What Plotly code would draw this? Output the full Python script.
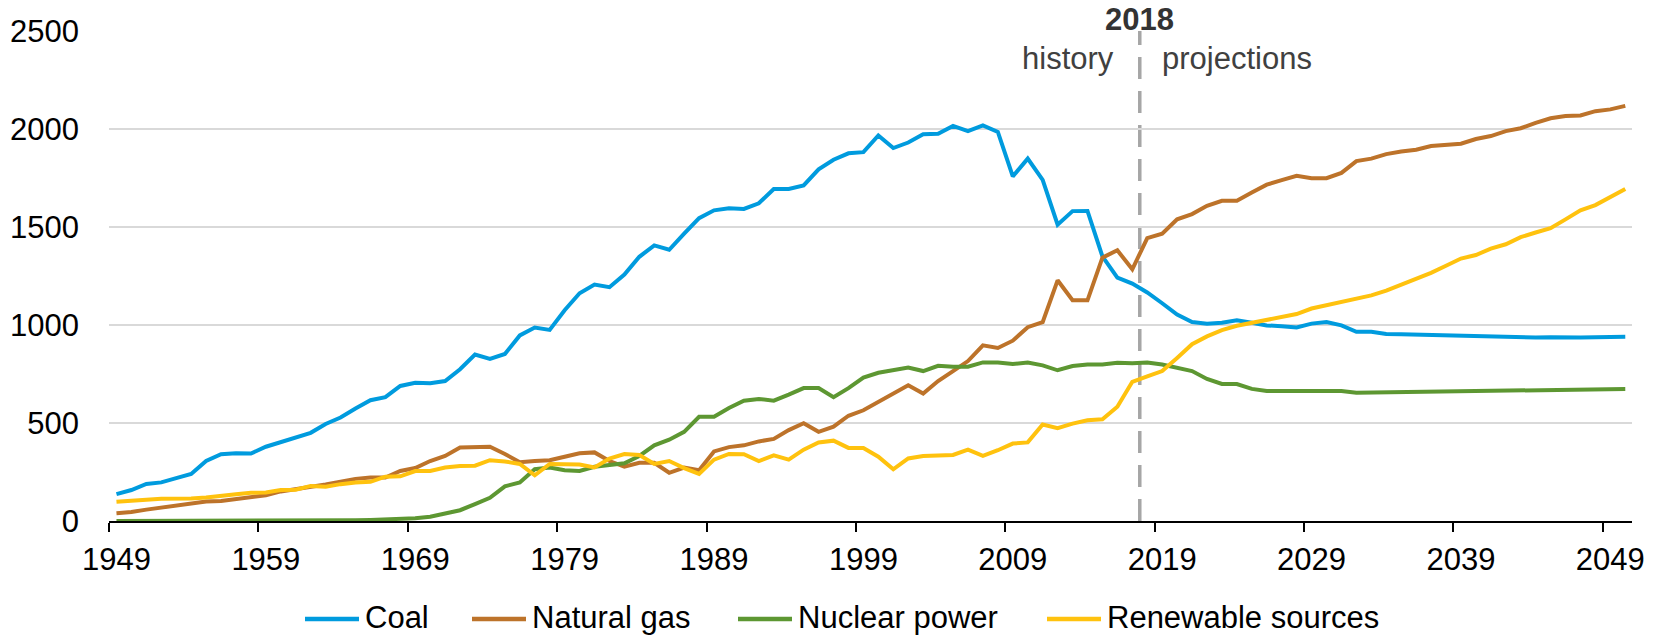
import plotly.graph_objects as go

years = list(range(1949, 2051))

coal = [137, 158, 189, 197, 219, 240, 306, 341, 346, 344,
        379, 401, 423, 450, 495, 528, 574, 616, 632, 689,
        705, 703, 714, 774, 849, 827, 852, 947, 987, 975,
        1075, 1162, 1206, 1193, 1257, 1348, 1406, 1384, 1466, 1545,
        1585, 1596, 1592, 1621, 1694, 1694, 1712, 1794, 1843, 1876,
        1882, 1967, 1903, 1931, 1973, 1976, 2016, 1989, 2018, 1985,
        1758, 1849, 1740, 1512, 1581, 1582, 1350, 1242, 1211, 1166,
        1111, 1053, 1015, 1007, 1011, 1024, 1011, 998, 993, 987,
        1007, 1015, 998, 965, 965, 954, 953, 951, 945, 944,
        944, 944, 938, 936, 934, 936, 938, 936, 936, 938,
        940, 940]

natural_gas = [40, 46, 58, 69, 80, 93, 100, 102, 113, 122,
               131, 151, 162, 171, 186, 200, 215, 222, 222, 255,
               270, 306, 332, 375, 377, 379, 342, 300, 306, 310,
               328, 346, 350, 306, 277, 297, 297, 246, 273, 259,
               355, 377, 386, 406, 419, 464, 499, 455, 481, 537,
               565, 607, 647, 692, 650, 714, 765, 816, 896, 883,
               920, 989, 1015, 1228, 1126, 1126, 1344, 1381, 1284, 1443,
               1466, 1539, 1566, 1608, 1634, 1634, 1676, 1716, 1739, 1761,
               1749, 1749, 1776, 1836, 1849, 1872, 1885, 1894, 1913, 1918,
               1925, 1949, 1964, 1989, 2004, 2031, 2055, 2066, 2069, 2091,
               2100, 2118]

nuclear_power = [0, 0, 0, 0, 0, 0, 0, 0, 0, 0.2,
                 0.2, 0.5, 1.7, 2.3, 3.2, 3.3, 3.7, 5.5, 7.7, 12.5,
                 13.9, 22, 36, 55, 86, 118, 177, 197, 264, 273,
                 259, 255, 277, 288, 295, 332, 386, 415, 455, 532,
                 532, 577, 614, 623, 614, 645, 678, 678, 632, 678,
                 732, 756, 772, 783, 765, 792, 787, 787, 809, 809,
                 801, 809, 794, 769, 791, 798, 798, 807, 805, 809,
                 798, 783, 765, 725, 699, 699, 674, 663, 663, 663,
                 663, 663, 663, 654, 655, 655, 656, 657, 658, 659,
                 660, 661, 662, 663, 664, 665, 667, 668, 669, 670,
                 672, 674]

renewable_sources = [98, 106, 109, 113, 113, 115, 120, 131, 137, 144,
                     146, 158, 160, 179, 175, 188, 197, 200, 226, 228,
                     255, 255, 273, 280, 282, 310, 304, 291, 233, 291,
                     291, 288, 273, 319, 342, 337, 291, 306, 270, 240,
                     313, 342, 341, 306, 335, 313, 364, 401, 410, 373,
                     372, 328, 264, 319, 332, 332, 337, 364, 332, 361,
                     395, 401, 492, 474, 497, 514, 519, 583, 710, 738,
                     765, 832, 902, 942, 974, 996, 1011, 1024, 1038, 1056,
                     1084, 1102, 1120, 1133, 1151, 1175, 1206, 1233, 1266, 1302,
                     1339, 1357, 1390, 1412, 1448, 1472, 1494, 1539, 1585, 1612,
                     1652, 1694]

series_names = ["Coal", "Natural gas", "Nuclear power", "Renewable sources"]
series_values = [coal, natural_gas, nuclear_power, renewable_sources]
series_colors = ["#009BDE", "#BD732A", "#5D9732", "#FFC20E"]

tick_years = list(range(1949, 2050, 10))
tick_labels = [str(y) for y in tick_years]
y_ticks = [0, 500, 1000, 1500, 2000, 2500]

FONT = "Liberation Sans, Arial, sans-serif"
W, H = 1663, 636
ML, MR, MT, MB = 109, 31, 31, 115
PW = W - ML - MR
PH = H - MT - MB


def px_to_paper_x(px):
    return (px - ML) / PW


def px_to_paper_y(py):
    return (H - MB - py) / PH


fig = go.Figure()
for name, vals, col in zip(series_names, series_values, series_colors):
    fig.add_trace(go.Scatter(x=years, y=vals, name=name, mode="lines",
                             line=dict(color=col, width=4),
                             showlegend=False))

fig.add_shape(type="line", x0=2017.5, x1=2017.5, y0=0, y1=2500,
              xref="x", yref="y", layer="below",
              line=dict(color="#A6A6A6", width=3.5, dash="22px,12px"))

fig.add_annotation(x=2017.5, y=px_to_paper_y(20), xref="x", yref="paper",
                   text="<b>2018</b>", showarrow=False,
                   xanchor="center", yanchor="middle",
                   font=dict(size=31, color="#333333", family=FONT))
fig.add_annotation(x=2015.9, y=2362, xref="x", yref="y", text="history",
                   showarrow=False, xanchor="right", yanchor="middle",
                   font=dict(size=31, color="#404040", family=FONT))
fig.add_annotation(x=2018.85, y=2362, xref="x", yref="y", text="projections",
                   showarrow=False, xanchor="left", yanchor="middle",
                   font=dict(size=31, color="#404040", family=FONT))

# custom legend (line sample + label) below the axis
legend_line_x = [305, 472, 738, 1047]
legend_line_len = 54
legend_y_px = 619
for name, col, lx in zip(series_names, series_colors, legend_line_x):
    fig.add_shape(type="line", xref="paper", yref="paper",
                  x0=px_to_paper_x(lx), x1=px_to_paper_x(lx + legend_line_len),
                  y0=px_to_paper_y(legend_y_px), y1=px_to_paper_y(legend_y_px),
                  line=dict(color=col, width=4.5))
    fig.add_annotation(xref="paper", yref="paper",
                       x=px_to_paper_x(lx + legend_line_len + 4),
                       y=px_to_paper_y(legend_y_px - 2),
                       text=name, showarrow=False, xanchor="left",
                       yanchor="middle",
                       font=dict(size=31, color="black", family=FONT))

fig.update_layout(
    width=W, height=H,
    margin=dict(l=ML, r=MR, t=MT, b=MB, autoexpand=False),
    paper_bgcolor="white", plot_bgcolor="white",
    font=dict(family=FONT, size=31, color="black"),
    showlegend=False,
    xaxis=dict(range=[1948.5, 2050.45], tickmode="array",
               tickvals=tick_years, ticktext=tick_labels, ticks="",
               showgrid=False, zeroline=False, showline=True,
               linecolor="black", linewidth=2,
               ticklabelstandoff=10,
               minor=dict(tick0=1948.5, dtick=10, ticks="outside",
                          ticklen=9, tickwidth=2, tickcolor="black",
                          showgrid=False),
               tickfont=dict(size=31, color="black", family=FONT)),
    yaxis=dict(range=[0, 2500], tickmode="array", tickvals=y_ticks,
               ticks="", showgrid=True, gridcolor="#D9D9D9", gridwidth=1.5,
               zeroline=False, showline=False, ticklabelstandoff=29,
               tickfont=dict(size=31, color="black", family=FONT)),
)

fig.write_html("out.html", config={"displayModeBar": False},
               post_script="document.body.style.margin='0';document.body.style.overflow='hidden';")
